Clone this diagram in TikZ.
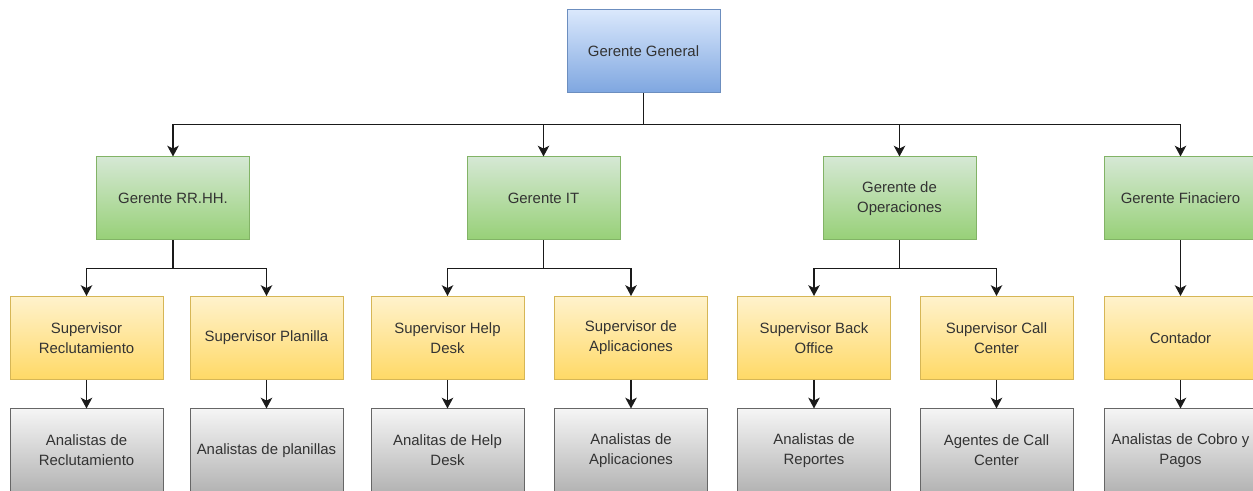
\documentclass[tikz,border=0pt]{standalone}
\usepackage{fontspec}
\setmainfont{Liberation Sans}
\usetikzlibrary{arrows.meta}

\definecolor{bluedraw}{HTML}{6C8EBF}
\definecolor{bluetop}{HTML}{DAE8FC}
\definecolor{bluebot}{HTML}{7EA6E0}
\definecolor{greendraw}{HTML}{82B366}
\definecolor{greentop}{HTML}{D5E8D4}
\definecolor{greenbot}{HTML}{97D077}
\definecolor{yeldraw}{HTML}{D6B656}
\definecolor{yeltop}{HTML}{FFF2CC}
\definecolor{yelbot}{HTML}{FFD966}
\definecolor{greydraw}{HTML}{666666}
\definecolor{greytop}{HTML}{F5F5F5}
\definecolor{greybot}{HTML}{B3B3B3}
\definecolor{linec}{HTML}{1A1A1A}
\definecolor{txt}{HTML}{333333}

\tikzset{
  box/.style={draw, line width=0.75pt, minimum width=114.75pt, minimum height=62.25pt,
    align=center, inner sep=2pt, text=txt, font=\fontsize{11.2}{15}\selectfont},
  bluebox/.style={box, draw=bluedraw, top color=bluetop, bottom color=bluebot},
  greenbox/.style={box, draw=greendraw, top color=greentop, bottom color=greenbot},
  yelbox/.style={box, draw=yeldraw, top color=yeltop, bottom color=yelbot},
  greybox/.style={box, draw=greydraw, top color=greytop, bottom color=greybot},
  arr/.style={draw=linec, line width=1.25pt, -{Stealth[length=8pt, width=8.5pt, inset=2pt]}},
}

\begin{document}
\begin{tikzpicture}[x=0.75pt, y=-0.75pt]
\useasboundingbox (0,0) rectangle (1253,491);
\clip (0,0) rectangle (1253,491);

% top level
\node[bluebox] (gg) at (643.5,51.5) {Gerente General};

% managers
\node[greenbox] (rh) at (173,198.5)   {Gerente RR.HH.};
\node[greenbox] (it) at (543.5,198.5) {Gerente IT};
\node[greenbox] (op) at (899.5,198.5) {Gerente de\\Operaciones};
\node[greenbox] (fi) at (1180.5,198.5) {Gerente Finaciero};

% supervisors
\node[yelbox] (sr) at (86.5,338)   {Supervisor\\Reclutamiento};
\node[yelbox] (sp) at (266.5,338)  {Supervisor Planilla};
\node[yelbox] (sh) at (447.5,338)  {Supervisor Help\\Desk};
\node[yelbox] (sa) at (631,338)    {Supervisor de\\Aplicaciones};
\node[yelbox] (sb) at (814,338)    {Supervisor Back\\Office};
\node[yelbox] (sc) at (996.5,338)  {Supervisor Call\\Center};
\node[yelbox] (co) at (1180.5,338) {Contador};

% staff
\node[greybox] (ar) at (86.5,450.5)   {Analistas de\\Reclutamiento};
\node[greybox] (ap) at (266.5,450.5)  {Analistas de planillas};
\node[greybox] (ah) at (447.5,450.5)  {Analitas de Help\\Desk};
\node[greybox] (aa) at (631,450.5)    {Analistas de\\Aplicaciones};
\node[greybox] (ae) at (814,450.5)    {Analistas de\\Reportes};
\node[greybox] (ac) at (996.5,450.5)  {Agentes de Call\\Center};
\node[greybox] (ag) at (1180.5,450.5) {Analistas de Cobro y\\Pagos};

% general manager to managers
\foreach \m in {rh,it,op,fi}
  \draw[arr] (gg.south) -- ++(0,31) -| (\m.north);

% managers to supervisors
\draw[arr] (rh.south) -- ++(0,28) -| (sr.north);
\draw[arr] (rh.south) -- ++(0,28) -| (sp.north);
\draw[arr] (it.south) -- ++(0,28) -| (sh.north);
\draw[arr] (it.south) -- ++(0,28) -| (sa.north);
\draw[arr] (op.south) -- ++(0,28) -| (sb.north);
\draw[arr] (op.south) -- ++(0,28) -| (sc.north);
\draw[arr] (fi.south) -- (co.north);

% supervisors to staff
\draw[arr] (sr.south) -- (ar.north);
\draw[arr] (sp.south) -- (ap.north);
\draw[arr] (sh.south) -- (ah.north);
\draw[arr] (sa.south) -- (aa.north);
\draw[arr] (sb.south) -- (ae.north);
\draw[arr] (sc.south) -- (ac.north);
\draw[arr] (co.south) -- (ag.north);
\end{tikzpicture}
\end{document}
